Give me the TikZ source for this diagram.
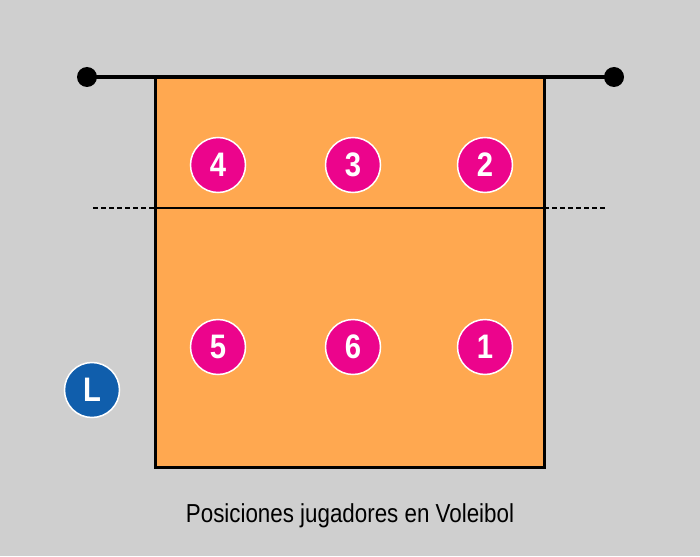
\documentclass[tikz,border=0pt]{standalone}
\usepackage{fontspec}
\setmainfont{Liberation Sans}[FakeStretch=0.86]
\definecolor{bg}{RGB}{207,207,207}
\definecolor{court}{RGB}{255,168,80}
\definecolor{pink}{RGB}{236,4,140}
\definecolor{lblue}{RGB}{16,94,172}
\begin{document}
\begin{tikzpicture}[x=1pt,y=-1pt,
  player/.style={circle,fill=pink,draw=white,line width=1.5pt,minimum size=55pt,inner sep=0pt,text=white,font=\fontsize{34}{34}\selectfont\bfseries},
  libero/.style={player,fill=lblue},
  netdot/.style={circle,fill=black,minimum size=20pt,inner sep=0pt}]
\fill[bg] (0,0) rectangle (700,556);
\useasboundingbox (0,0) rectangle (700,556);
\fill[court] (155,78) rectangle (544,467);
\draw[line width=3pt] (155,78) rectangle (544,467);
\node[netdot] (nl) at (87,77) {};
\node[netdot] (nr) at (614,77) {};
\draw[line width=4.5pt] (nl.center) -- (nr.center);
\coordinate (al) at (155,208);
\coordinate (ar) at (544,208);
\coordinate (dl) at (93,208);
\coordinate (dr) at (607,208);
\draw[line width=2.5pt] (al) -- (ar);
\draw[line width=2.5pt,dash pattern=on 5pt off 3pt] (dl) -- (al);
\draw[line width=2.5pt,dash pattern=on 5pt off 3pt] (ar) -- (dr);
\node[player] (p4) at (218,165) {4};
\node[player] (p3) at (353,165) {3};
\node[player] (p2) at (485,165) {2};
\node[player] (p5) at (218,347) {5};
\node[player] (p6) at (353,347) {6};
\node[player] (p1) at (485,347) {1};
\node[libero] (L) at (92,390) {L};
\node[font=\fontsize{26}{26}\selectfont] (cap) at (350,516) {Posiciones jugadores en Voleibol};
\end{tikzpicture}
\end{document}
